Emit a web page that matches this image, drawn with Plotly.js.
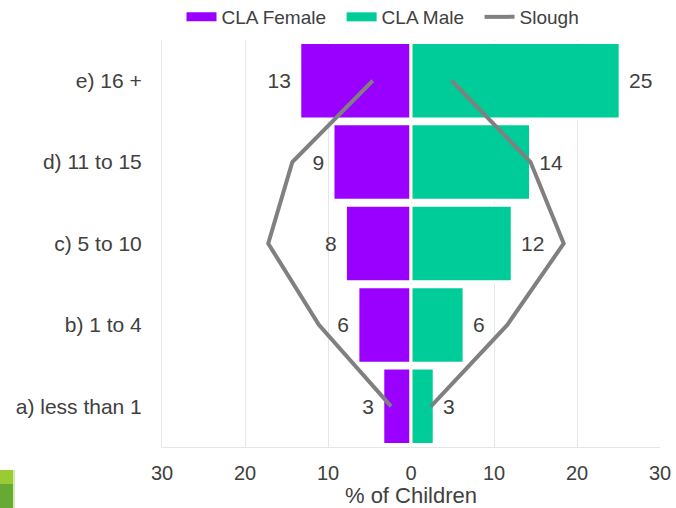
<!DOCTYPE html>
<html>
<head>
<meta charset="utf-8">
<script src="https://cdn.plot.ly/plotly-3.0.1.min.js"></script>
<style>html,body{margin:0;padding:0;background:#fff;}#chart{width:676px;height:508px;}</style>
</head>
<body>
<div id="chart"></div>
<script>
// ---- data ----
var ageGroups = ["a) less than 1", "b) 1 to 4", "c) 5 to 10", "d) 11 to 15", "e) 16 +"];
var claFemale = [3.4, 6.4, 7.9, 9.4, 13.4];
var claMale = [2.8, 6.4, 12.2, 14.4, 25.2];
var sloughFemale = [2.4, 11.1, 17.2, 14.3, 4.6];
var sloughMale = [2.4, 11.6, 18.4, 14.4, 4.9];
var xTickVals = [-30, -20, -10, 0, 10, 20, 30];
var xTickText = ["30", "20", "10", "0", "10", "20", "30"];

var PURPLE = "#9900FF", GREEN = "#00CC99", GREY = "#808080";
var FONT = "Liberation Sans, Arial, sans-serif";
var TXT = "#404040";
var NB = "\u00a0";

function neg(a){ return a.map(function(v){ return -v; }); }
function lblL(a){ return a.map(function(v){ return String(Math.round(v)) + NB; }); }
function lblR(a){ return a.map(function(v){ return NB + String(Math.round(v)); }); }

var traces = [
  {type: "bar", orientation: "h", name: "CLA Female", y: ageGroups, x: neg(claFemale),
   marker: {color: PURPLE, line: {color: "#ffffff", width: 3}},
   text: lblL(claFemale), textposition: "outside", cliponaxis: false,
   textfont: {family: FONT, size: 21, color: TXT}, showlegend: false, hoverinfo: "skip"},
  {type: "bar", orientation: "h", name: "CLA Male", y: ageGroups, x: claMale,
   marker: {color: GREEN, line: {color: "#ffffff", width: 3}},
   text: lblR(claMale), textposition: "outside", cliponaxis: false,
   textfont: {family: FONT, size: 21, color: TXT}, showlegend: false, hoverinfo: "skip"},
  {type: "scatter", mode: "lines", name: "Slough", y: ageGroups, x: neg(sloughFemale),
   line: {color: GREY, width: 4}, showlegend: false, hoverinfo: "skip"},
  {type: "scatter", mode: "lines", name: "Slough", y: ageGroups, x: sloughMale,
   line: {color: GREY, width: 4}, showlegend: false, hoverinfo: "skip"},
  // legend entries
  {type: "scatter", mode: "lines", name: "CLA Female" + NB + NB, x: [null], y: [null],
   line: {color: PURPLE, width: 9}, showlegend: true},
  {type: "scatter", mode: "lines", name: "CLA Male" + NB + NB, x: [null], y: [null],
   line: {color: GREEN, width: 9}, showlegend: true},
  {type: "scatter", mode: "lines", name: "Slough", x: [null], y: [null],
   line: {color: GREY, width: 4}, showlegend: true}
];

var mL = 162, mR = 16, mT = 40, mB = 61;
var pw = 676 - mL - mR, ph = 508 - mT - mB;
function px2x(p){ return (p - mL) / pw; }
function py2y(p){ return (508 - mB - p) / ph; }

var layout = {
  width: 676, height: 508,
  margin: {l: mL, r: mR, t: mT, b: mB, pad: 0, autoexpand: false},
  paper_bgcolor: "#ffffff", plot_bgcolor: "#ffffff",
  barmode: "overlay", bargap: 0.06,
  font: {family: FONT, size: 20, color: TXT},
  xaxis: {range: [-30, 30], tickvals: xTickVals, ticktext: xTickText,
          showgrid: true, gridcolor: "#e6e6e6", gridwidth: 1, zeroline: false,
          showline: true, linecolor: "#e6e6e6", linewidth: 1, mirror: false,
          ticks: "", ticklabelstandoff: 8, fixedrange: true, automargin: false,
          tickfont: {family: FONT, size: 20, color: TXT},
          title: {text: "% of Children", font: {family: FONT, size: 22, color: TXT}, standoff: 3}},
  yaxis: {type: "category", categoryorder: "array", categoryarray: ageGroups,
          range: [-0.5, 4.5], showgrid: false, zeroline: false,
          showline: true, linecolor: "#e6e6e6", linewidth: 1,
          ticks: "", ticklabelstandoff: 15, fixedrange: true, automargin: false,
          tickfont: {family: FONT, size: 21, color: TXT}},
  showlegend: true,
  legend: {orientation: "h", x: px2x(383), xanchor: "center", y: py2y(-2), yanchor: "top",
           font: {family: FONT, size: 19, color: TXT}, itemwidth: 30, tracegroupgap: 0,
           bgcolor: "rgba(0,0,0,0)"},
  shapes: [
    {type: "rect", xref: "paper", yref: "paper", x0: px2x(0), x1: px2x(13), y0: py2y(484), y1: py2y(470),
     fillcolor: "#99CC33", line: {width: 0}, layer: "above"},
    {type: "rect", xref: "paper", yref: "paper", x0: px2x(0), x1: px2x(13), y0: py2y(508), y1: py2y(484),
     fillcolor: "#66AA33", line: {width: 0}, layer: "above"},
    {type: "rect", xref: "paper", yref: "paper", x0: px2x(13), x1: px2x(15), y0: py2y(508), y1: py2y(470),
     fillcolor: "#D4EBB5", line: {width: 0}, layer: "above"}
  ]
};

Plotly.newPlot("chart", traces, layout, {displayModeBar: false, staticPlot: true});
</script>
</body>
</html>
